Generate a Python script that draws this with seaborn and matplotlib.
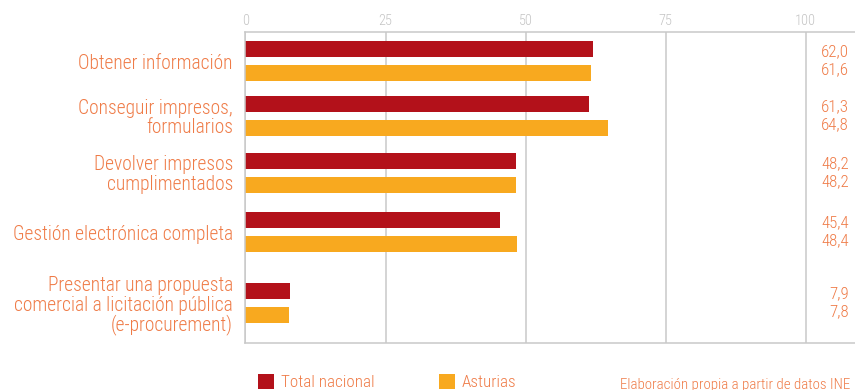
import matplotlib
matplotlib.use("Agg")
import matplotlib.pyplot as plt
from matplotlib import font_manager as fm
from matplotlib.font_manager import FontProperties
from matplotlib.patches import Patch
from matplotlib.transforms import blended_transform_factory
import pandas as pd
import seaborn as sns

# --- data -------------------------------------------------------------
categorias = [
    "Obtener información",
    "Conseguir impresos,\nformularios",
    "Devolver impresos\ncumplimentados",
    "Gestión electrónica completa",
    "Presentar una propuesta\ncomercial a licitación pública\n(e-procurement)",
]
series = ["Total nacional", "Asturias"]
total_nacional = [62.0, 61.3, 48.2, 45.4, 7.9]
asturias = [61.6, 64.8, 48.2, 48.4, 7.8]
x_ticks = [0, 25, 50, 75, 100]
fuente = "Elaboración propia a partir de datos INE"

# --- layout / style ---------------------------------------------------
row_pos = [0.0, 1.0, 2.027, 3.109, 4.4]   # vertical row centres (taller rows for longer labels)
ROW_PX = 55.0                              # pixels per row unit
ROJO = "#B3111A"
NARANJA = "#F8A91F"
TEXTO = "#EF7B47"
GRIS = "#C9C9C9"
GRIS_TXT = "#C4C4C4"


def _weight(w):
    if isinstance(w, str):
        return fm.weight_dict.get(w, 400)
    return int(w)


def condensed_font():
    """Pick an installed condensed Latin sans face, lighter weights first."""
    bases = ["Roboto", "Liberation Sans", "Noto Sans", "Open Sans", "DejaVu Sans", "Lato", "Inter"]
    best = None
    for f in fm.fontManager.ttflist:
        name = f.name
        if f.style != "normal":
            continue
        rank = None
        for i, b in enumerate(bases):
            rest = name[len(b):].strip() if name.startswith(b) else None
            if rest is None:
                continue
            if rest in ("", "Condensed", "Narrow", "Condensed Light", "Light Condensed",
                        "Condensed Regular", "Display Condensed", "Display"):
                rank = i
                break
        if rank is None:
            continue
        low = name.lower()
        if "extra" in low or "semi" in low or "ultra" in low:
            continue
        is_cond = ("condensed" in low or "narrow" in low or f.stretch == "condensed")
        if f.stretch in ("extra-condensed", "semi-condensed", "ultra-condensed"):
            continue
        if not is_cond:
            continue
        score = (abs(_weight(f.weight) - 330), rank)
        if best is None or score < best[0]:
            best = (score, f.fname)
    if best is None:
        return FontProperties(family="DejaVu Sans")
    return FontProperties(fname=best[1])


BASE_FP = condensed_font()

sns.set_theme(style="white")
plt.rcParams["font.family"] = ["DejaVu Sans"]

fig = plt.figure(figsize=(8.55, 3.90), dpi=100)
renderer = fig.canvas.get_renderer()


def fp_for_width(text, width_px):
    """Font properties whose rendering of `text` spans width_px pixels."""
    fp = BASE_FP.copy()
    fp.set_size(10)
    w, _, _ = renderer.get_text_width_height_descent(text, fp, ismath=False)
    fp.set_size(10 * width_px / w)
    return fp


fp_label = fp_for_width("Obtener información", 155)
fp_value = fp_for_width("62,0", 28)
fp_tick = fp_for_width("25", 14)
fp_leg = fp_for_width("Total nacional", 93)
fp_src = fp_for_width(fuente, 230)

_, cap_h, _ = renderer.get_text_width_height_descent("H", fp_label, ismath=False)
LINE_PX = 19.5   # baseline-to-baseline distance of wrapped labels

df = pd.DataFrame({
    "pos": row_pos * 2,
    "serie": [series[0]] * len(categorias) + [series[1]] * len(categorias),
    "valor": total_nacional + asturias,
})

ax = fig.add_axes([0.2871, 0.1205, 0.7129, 0.7982])

sns.barplot(
    data=df, x="valor", y="pos", hue="serie", hue_order=series,
    orient="h", native_scale=True, palette=[ROJO, NARANJA],
    width=0.8727, gap=1 / 3, legend=False, saturation=1,
    linewidth=0, ax=ax,
)

ax.set_xlim(0, 108.8)
ax.set_ylim(5.127, -0.533)

# value axis on top with light grid
ax.xaxis.tick_top()
ax.set_xticks(x_ticks)
ax.set_xticklabels([str(t) for t in x_ticks], fontproperties=fp_tick, color=GRIS_TXT)
ax.tick_params(axis="x", length=0, pad=3)
ax.grid(axis="x", color=GRIS, linewidth=1.1)
ax.grid(axis="y", visible=False)
ax.set_axisbelow(True)
ax.set_xlabel("")
ax.set_ylabel("")
ax.set_yticks([])

for side in ["top", "left", "bottom"]:
    ax.spines[side].set_color(GRIS)
    ax.spines[side].set_linewidth(1.1)
ax.spines["right"].set_visible(False)

tr = blended_transform_factory(ax.transAxes, ax.transData)
ax_w_px = ax.get_position().width * fig.bbox.width

# category labels, one line at a time with even leading
label_x = -12.5 / ax_w_px
for y, texto in zip(row_pos, categorias):
    lineas = texto.split("\n")
    n = len(lineas)
    for i, linea in enumerate(lineas):
        base_px = (i - (n - 1) / 2) * LINE_PX + cap_h / 2
        ax.text(label_x, y + base_px / ROW_PX, linea, transform=tr,
                ha="right", va="baseline", fontproperties=fp_label, color=TEXTO,
                clip_on=False)

# value column at the right
for y, a, b in zip(row_pos, total_nacional, asturias):
    for dy, v in ((-9 / ROW_PX, a), (9 / ROW_PX, b)):
        ax.text(0.990, y + dy, f"{v:.1f}".replace(".", ","), transform=tr,
                ha="right", va="center", fontproperties=fp_value, color=TEXTO)

# legend and source
leg_px = fp_leg.get_size_in_points() * 100 / 72
handles = [Patch(facecolor=ROJO, edgecolor="none"),
           Patch(facecolor=NARANJA, edgecolor="none")]
fig.legend(handles, series, loc="center left",
           bbox_to_anchor=(258 / 855, 1 - 382 / 390), ncol=2, frameon=False,
           prop=fp_leg, labelcolor=TEXTO, borderpad=0, borderaxespad=0,
           handlelength=16 / leg_px, handleheight=16 / leg_px,
           handletextpad=7 / leg_px, columnspacing=64 / leg_px)
fig.text(850 / 855, 1 - 389 / 390, fuente, ha="right", va="baseline",
         fontproperties=fp_src, color=TEXTO)

fig.savefig("out.png", dpi=100)
